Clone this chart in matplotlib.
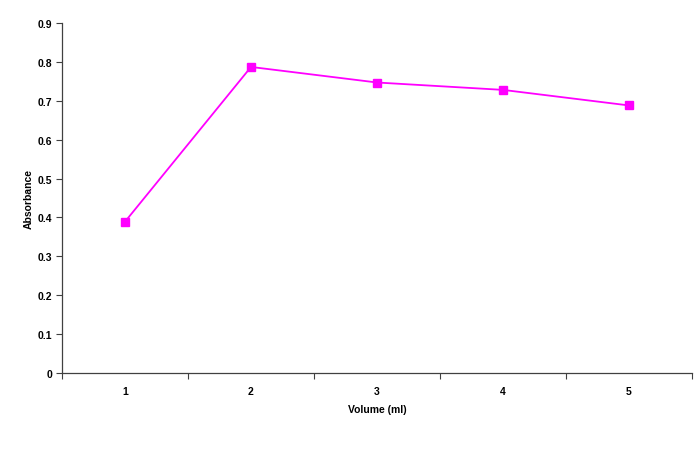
import matplotlib
matplotlib.use("Agg")
import matplotlib.pyplot as plt
import numpy as np

categories = ["1", "2", "3", "4", "5"]
absorbance = [0.389, 0.787, 0.747, 0.728, 0.688]
yticks = [0, 0.1, 0.2, 0.3, 0.4, 0.5, 0.6, 0.7, 0.8, 0.9]
ytick_labels = ["0", "0.1", "0.2", "0.3", "0.4", "0.5", "0.6", "0.7", "0.8", "0.9"]

plt.rcParams['font.family'] = ['Liberation Sans', 'DejaVu Sans']

fig = plt.figure(figsize=(6.96, 4.56), dpi=100)
ax = fig.add_axes([62/696, 1-374/456, (692-62)/696, (374-24)/456])

x = np.arange(1, len(categories) + 1)
ax.plot(x, absorbance, color='#FF00FF', lw=1.3, marker='s', markersize=5.2,
        markerfacecolor='#FF00FF', markeredgecolor='#FF00FF')

ax.set_xlim(0.5, len(categories) + 0.5)
ax.set_ylim(0, 0.9)
ax.set_yticks(yticks)
ax.set_yticklabels(ytick_labels, fontsize=7.5, fontweight='bold')

ax.set_xticks(np.arange(0.5, len(categories) + 1, 1.0))
ax.set_xticklabels([])
ax.set_xticks(x, minor=True)
ax.set_xticklabels(categories, minor=True, fontsize=7.5, fontweight='bold')
ax.tick_params(axis='x', which='minor', length=0, pad=9.5)
ax.tick_params(axis='both', which='major', direction='out', length=4, width=0.8, color='#404040')
ax.tick_params(axis='y', pad=3)

for s in ['top', 'right']:
    ax.spines[s].set_visible(False)
for s in ['left', 'bottom']:
    ax.spines[s].set_color('#404040')
    ax.spines[s].set_linewidth(0.9)

ax.set_xlabel("Volume (ml)", fontsize=7.5, fontweight='bold', labelpad=5.5)
ax.set_ylabel("Absorbance", fontsize=7.5, fontweight='bold', labelpad=3)

fig.savefig("out.png", dpi=100, facecolor='white')
